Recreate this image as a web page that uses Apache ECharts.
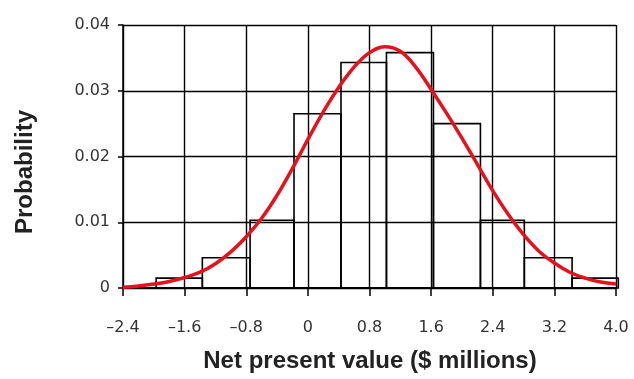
<!DOCTYPE html>
<html>
<head>
<meta charset="utf-8">
<script src="https://cdn.jsdelivr.net/npm/echarts@6/dist/echarts.min.js"></script>
<style>html,body{margin:0;padding:0;background:#fff;}#c{width:634px;height:379px;}</style>
</head>
<body>
<div id="c"></div>
<script>
// Histogram bin edges and heights
const binEdges = [-1.97, -1.37, -0.75, -0.18, 0.43, 1.02, 1.63, 2.24, 2.81, 3.43, 4.03];
const binHeights = [0.0015, 0.0046, 0.0103, 0.0265, 0.0343, 0.0358, 0.0250, 0.0103, 0.0046, 0.0015];
// Fitted curve points
const curveX = [-2.4, -2.2, -2.0, -1.8, -1.6, -1.4, -1.2, -1.0, -0.8, -0.6, -0.4, -0.2, 0, 0.2, 0.4, 0.6, 0.8, 1.0, 1.2, 1.4, 1.6, 1.8, 2.0, 2.2, 2.4, 2.6, 2.8, 3.0, 3.2, 3.4, 3.6, 3.8, 4.0];
const curveY = [0.0001, 0.0003, 0.0006, 0.0010, 0.0016, 0.0024, 0.0037, 0.0055, 0.0078, 0.0106, 0.0141, 0.0182, 0.0226, 0.0268, 0.0305, 0.0336, 0.0358, 0.0367, 0.0360, 0.0336, 0.0302, 0.0266, 0.0228, 0.0188, 0.0148, 0.0112, 0.0081, 0.0056, 0.0038, 0.0024, 0.0015, 0.0009, 0.0006];
const xTitle = 'Net present value ($ millions)';
const yTitle = 'Probability';

const barData = binHeights.map((h, i) => [binEdges[i], binEdges[i + 1], h]);
const lineData = curveX.map((x, i) => [x, curveY[i]]);

const chart = echarts.init(document.getElementById('c'));
const labelFont = { fontFamily: 'DejaVu Sans, sans-serif', fontSize: 16, color: '#333' };
const titleFont = 'bold 24px Liberation Sans, Arial, sans-serif';
chart.setOption({
  animation: false,
  backgroundColor: '#fff',
  grid: { left: 123, right: 18, top: 25, bottom: 91 },
  xAxis: {
    type: 'value', min: -2.4, max: 4.0, interval: 0.8,
    axisLine: { show: true, onZero: false, lineStyle: { color: '#000', width: 2 } },
    axisTick: { show: true, length: 8, lineStyle: { color: '#000', width: 1.5 } },
    axisLabel: Object.assign({ margin: 32, formatter: v => v === 0 ? '0' : (v < 0 ? '\u2013' : '') + Math.abs(v).toFixed(1) }, labelFont),
    splitLine: { show: true, lineStyle: { color: '#000', width: 1.4 } }
  },
  yAxis: {
    type: 'value', min: 0, max: 0.04, interval: 0.01,
    axisLine: { show: true, onZero: false, lineStyle: { color: '#000', width: 1.5 } },
    axisTick: { show: true, length: 5, lineStyle: { color: '#000', width: 1.5 } },
    axisLabel: Object.assign({ margin: 13, formatter: v => v === 0 ? '0' : v.toFixed(2) }, labelFont),
    splitLine: { show: true, lineStyle: { color: '#000', width: 1.4 } }
  },
  graphic: [
    { type: 'text', x: 370, y: 361, style: { text: xTitle, align: 'center', verticalAlign: 'middle', font: titleFont, fill: '#222' } },
    { type: 'text', rotation: Math.PI / 2, x: 25, y: 172, style: { text: yTitle, align: 'center', verticalAlign: 'middle', font: titleFont, fill: '#222' } }
  ],
  series: [
    {
      type: 'custom',
      data: barData,
      encode: { x: [0, 1], y: 2 },
      renderItem: function (params, api) {
        const s = api.coord([api.value(0), 0]);
        const e = api.coord([api.value(1), api.value(2)]);
        return {
          type: 'rect',
          shape: { x: s[0], y: e[1], width: e[0] - s[0], height: s[1] - e[1] },
          style: { fill: 'rgba(0,0,0,0)', stroke: '#000', lineWidth: 1.6 }
        };
      },
      z: 3
    },
    {
      type: 'line',
      data: lineData,
      smooth: 0.4,
      symbol: 'none',
      lineStyle: { color: '#e3121c', width: 3.5 },
      z: 5
    }
  ]
});
</script>
</body>
</html>
